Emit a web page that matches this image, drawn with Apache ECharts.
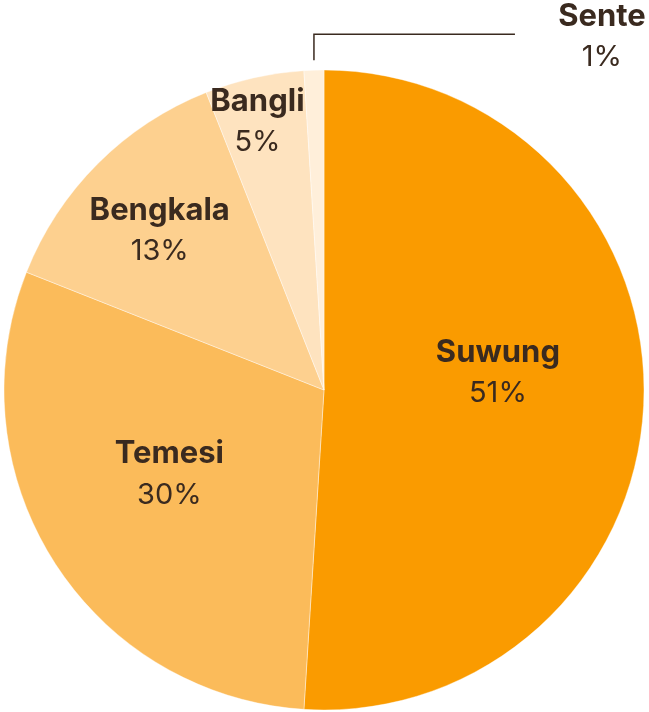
<!DOCTYPE html>
<html>
<head>
<meta charset="utf-8">
<style>
  html, body { margin: 0; padding: 0; background: #ffffff; }
  #chart { width: 649px; height: 712px; }
</style>
<script src="https://cdn.jsdelivr.net/npm/echarts@6/dist/echarts.min.js"></script>
</head>
<body>
<div id="chart"></div>
<script>
// Share of each site (percent)
const sites = ['Suwung', 'Temesi', 'Bengkala', 'Bangli', 'Sente'];
const shares = [51, 30, 13, 5, 1];
const colors = ['#FA9B00', '#FBBB5A', '#FDD08F', '#FEE3BF', '#FFEFDA'];
// Nudges for the inner labels, relative to the slice's mid-radius spot
const labelOffsets = [[11, -22], [-17, -3], [-49, -44], [-31, -109], [0, 0]];

const textColor = '#3A2A1F';
const fontFamily = 'Inter, "Open Sans", sans-serif';

const rich = {
  n: { fontFamily, fontWeight: 'bold', fontSize: 31, color: textColor, lineHeight: 41, align: 'center' },
  p: { fontFamily, fontWeight: 'normal', fontSize: 29, color: textColor, lineHeight: 41, align: 'center' }
};

const data = sites.map((name, i) => {
  const item = {
    name,
    value: shares[i],
    itemStyle: { color: colors[i] },
    label: { offset: labelOffsets[i] }
  };
  if (name === 'Sente') {
    item.label = { position: 'outside', show: true };
    item.labelLine = { show: true, length: 30, length2: 200, lineStyle: { color: '#3A2A1F', width: 1.5 } };
  }
  return item;
});

const chart = echarts.init(document.getElementById('chart'), null, { renderer: 'canvas' });
chart.setOption({
  animation: false,
  series: [{
    type: 'pie',
    center: [324, 390],
    radius: [0, 320],
    startAngle: 90,
    clockwise: true,
    data,
    itemStyle: { borderColor: '#ffffff', borderWidth: 0.4 },
    label: {
      show: true,
      position: 'inside',
      formatter: p => '{n|' + p.name + '}\n{p|' + p.value + '%}',
      rich
    },
    labelLine: { show: false },
    labelLayout: params => {
      if (params.dataIndex !== sites.indexOf('Sente')) return {};
      const p0 = params.labelLinePoints[0];
      const top = p0[1] - 36;
      return {
        x: p0[0] + 288,
        y: top + 3,
        align: 'center',
        verticalAlign: 'middle',
        labelLinePoints: [[p0[0], p0[1] - 10], [p0[0], top], [p0[0] + 201, top]]
      };
    }
  }]
});
</script>
</body>
</html>
